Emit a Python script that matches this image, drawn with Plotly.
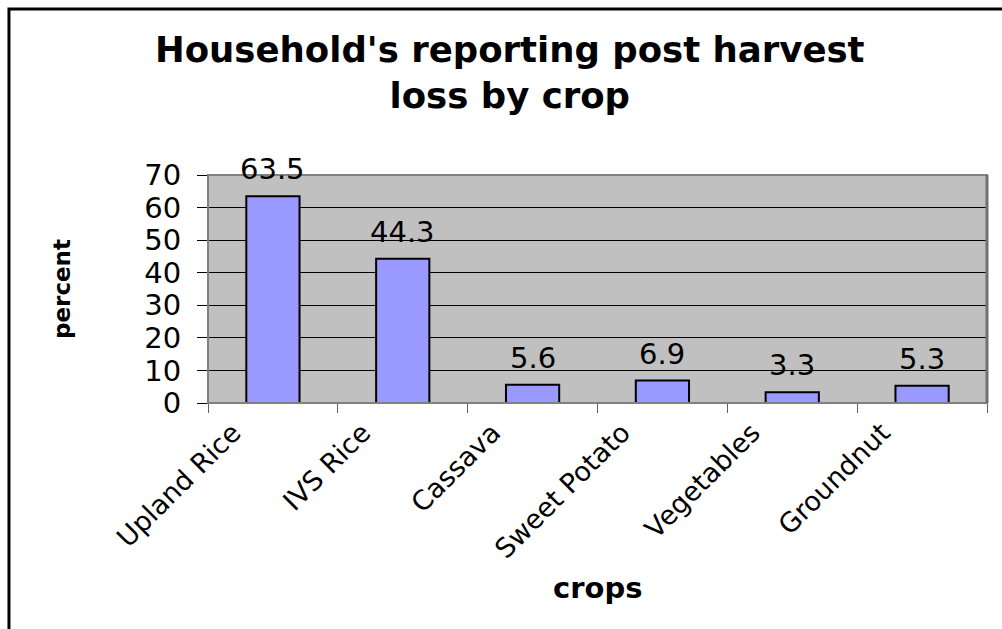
import plotly.graph_objects as go

# Share of households reporting post-harvest loss, by crop
crops = ["Upland Rice", "IVS Rice", "Cassava", "Sweet Potato", "Vegetables", "Groundnut"]
percent = [63.5, 44.3, 5.6, 6.9, 3.3, 5.3]
y_ticks = [0, 10, 20, 30, 40, 50, 60, 70]

FONT = "DejaVu Sans"

fig = go.Figure(
    go.Bar(
        x=crops,
        y=percent,
        marker=dict(color="#9999FF", line=dict(color="black", width=2)),
        hoverinfo="x+y",
    )
)

# value labels above each bar
for c, v in zip(crops, percent):
    fig.add_annotation(
        x=c, y=v, text=f"{v:.1f}", showarrow=False,
        xref="x", yref="y", yanchor="bottom", yshift=8,
        font=dict(family=FONT, size=29, color="black"),
    )

# chart title
fig.add_annotation(
    x=0.3877, y=1.45, xref="paper", yref="paper",
    text="<b>Household's reporting post harvest<br>loss by crop</b>",
    showarrow=False, xanchor="center", yanchor="middle",
    font=dict(family=FONT, size=35.5, color="black"),
)

# axis titles
fig.add_annotation(
    x=-0.1874, y=0.5, xref="paper", yref="paper", text="<b>percent</b>",
    textangle=-90, showarrow=False, xanchor="center", yanchor="middle",
    font=dict(family=FONT, size=23, color="black"),
)
fig.add_annotation(
    x=0.5, y=-0.811, xref="paper", yref="paper", text="<b>crops</b>",
    showarrow=False, xanchor="center", yanchor="middle",
    font=dict(family=FONT, size=29, color="black"),
)

# plot-area border (darker on the right edge) and outer chart frame
fig.add_shape(type="rect", xref="paper", yref="paper", x0=0, x1=1, y0=0, y1=1,
              line=dict(color="#808080", width=2), layer="above")
fig.add_shape(type="line", xref="paper", yref="paper", x0=1, x1=1, y0=0, y1=1,
              line=dict(color="#707070", width=3), layer="above")
fig.add_shape(type="rect", xref="paper", yref="paper", x0=-0.2555, x1=1.6, y0=-1.6, y1=1.728,
              line=dict(color="black", width=3), layer="above")

fig.update_layout(
    width=1002, height=629,
    margin=dict(l=208, r=15, t=175, b=226),
    paper_bgcolor="white",
    plot_bgcolor="#C0C0C0",
    bargap=0.59,
    showlegend=False,
    font=dict(family=FONT, color="black"),
)

fig.update_xaxes(
    type="category", tickson="boundaries", ticks="outside", ticklen=9,
    tickcolor="#606060", tickwidth=1, tickangle=-45, ticklabelshift=-40,
    ticklabelstandoff=2,
    tickfont=dict(family=FONT, size=27, color="black"),
    showline=True, linecolor="black", linewidth=1,
    showgrid=False, automargin=False,
)
fig.update_yaxes(
    range=[0, 70], tickvals=y_ticks, ticks="outside", ticklen=10,
    tickcolor="black", tickwidth=1, ticklabelstandoff=10,
    tickfont=dict(family=FONT, size=29, color="black"),
    showgrid=True, gridcolor="black", gridwidth=1,
    zeroline=False, showline=False, automargin=False,
)

fig.write_html("out.html")
